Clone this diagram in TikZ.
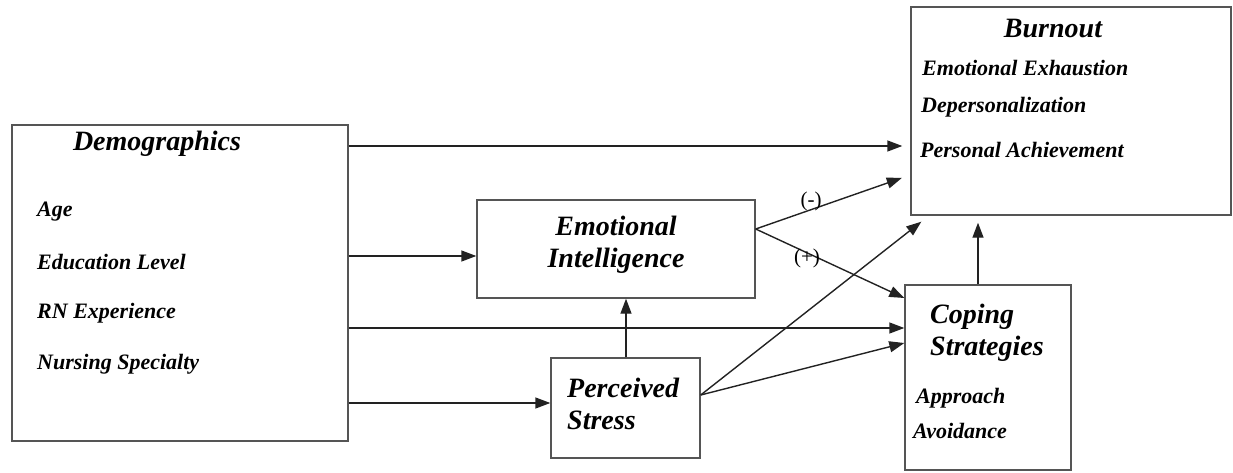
\documentclass[tikz,border=0pt]{standalone}
\usepackage{fontspec}
\setmainfont{Liberation Serif}
\usetikzlibrary{arrows.meta}
\definecolor{linec}{HTML}{222222}
\definecolor{boxc}{HTML}{555555}
\tikzset{
  box/.style={draw=boxc, line width=1.4pt, rectangle, inner sep=0pt},
  head/.style={font=\fontsize{28}{32}\selectfont\bfseries\itshape, inner sep=0pt},
  item/.style={font=\fontsize{22}{24}\selectfont\bfseries\itshape, inner sep=0pt, anchor=west},
  sign/.style={font=\fontsize{21}{22}\selectfont, inner sep=0pt},
  arr/.style={draw=linec, line width=1.4pt, -{Triangle[length=15pt,width=11pt]}}
}
\begin{document}
\begin{tikzpicture}[x=1pt,y=-1pt]
\useasboundingbox (0,0) rectangle (1233,473);
% boxes
\node[box, minimum width=336pt, minimum height=316pt] (demo) at (180,283) {};
\node[box, minimum width=320pt, minimum height=208pt] (burn) at (1071,111) {};
\node[box, minimum width=278pt, minimum height=98pt] (ei) at (616,249) {};
\node[box, minimum width=149pt, minimum height=100pt] (ps) at (625.5,408) {};
\node[box, minimum width=166pt, minimum height=185pt] (cope) at (988,377.5) {};
% texts
\node[head] (demot) at (157,144) {Demographics};
\node[item] (age) at (37,212) {Age};
\node[item] (edu) at (37,262) {Education Level};
\node[item] (rn) at (37,313) {RN Experience};
\node[item] (nurs) at (37,364) {Nursing Specialty};
\node[head] (burnt) at (1053,28) {Burnout};
\node[item] (ee) at (922,68) {Emotional Exhaustion};
\node[item] (dp) at (921,107) {Depersonalization};
\node[item] (pa) at (920,150) {Personal Achievement};
\node[head, align=center] (eit) at (616,245) {Emotional\\Intelligence};
\node[head, align=left, anchor=west] (pst) at (567,404) {Perceived\\Stress};
\node[head, align=left, anchor=west] (copt) at (930,333) {Coping\\Strategies};
\node[item] (appr) at (916,398) {Approach};
\node[item] (avoid) at (913,431) {Avoidance};
% connectors
\draw[arr, shorten >=8pt] (demo.east |- 0,146) -- (burn.west |- 0,146);
\draw[arr] (demo.east |- 0,256) -- (ei.west |- 0,256);
\draw[arr] (demo.east |- 0,328) -- (cope.west |- 0,328);
\draw[arr] (demo.east |- 0,403) -- (ps.west |- 0,403);
\draw[arr] (ps.north -| 626,0) -- (ei.south -| 626,0);
\draw[arr, shorten >=9pt] ([yshift=20pt]ei.east) -- (burn.west |- 0,175);
\draw[arr] ([yshift=20pt]ei.east) -- (cope.west |- 0,298);
\draw[arr] ([yshift=13pt]ps.east) -- ([shift={(11,6)}]burn.south west);
\draw[arr] ([yshift=13pt]ps.east) -- (cope.west |- 0,343);
\draw[arr, shorten >=7pt] ([xshift=-10pt]cope.north) -- ([xshift=-10pt]cope.north |- burn.south);
% signs
\node[sign] (minus) at (811,201) {(-)};
\node[sign] (plus) at (807,258) {(+)};
\end{tikzpicture}
\end{document}
